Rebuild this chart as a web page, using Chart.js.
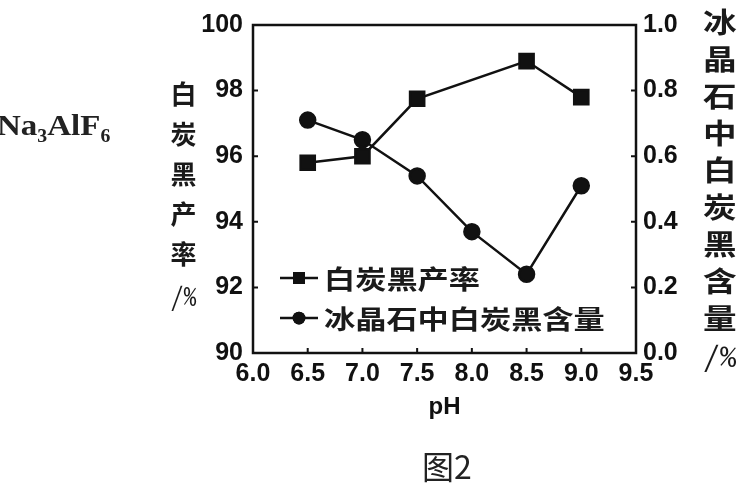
<!DOCTYPE html>
<html>
<head>
<meta charset="utf-8">
<script src="https://cdn.jsdelivr.net/npm/chart.js@4"></script>
<style>
  html, body { margin: 0; padding: 0; background: #fff; }
  #wrap { position: relative; width: 750px; height: 500px; }
  .vtitle {
    position: absolute;
    writing-mode: vertical-rl;
    text-orientation: upright;
    font-family: "Noto Sans CJK SC", sans-serif;
    font-weight: bold;
    color: #1a1a1a;
    line-height: 1;
    white-space: nowrap;
  }
  .vtitle .pc { text-combine-upright: all; font-weight: normal; }
  #leftTitle { left: 170px; top: 81px; font-size: 26px; letter-spacing: 14px; }
  #rightTitle { left: 703px; top: 8px; font-size: 28px; letter-spacing: 9px; transform: scaleX(1.2); transform-origin: left top; }
  #frag { position: absolute; left: -3px; top: 108px; font-family: "Liberation Serif", serif; font-weight: bold; font-size: 30px; color: #222; transform: scaleX(1.1); transform-origin: left top; }
  #frag sub { font-size: 18px; }
  #fig { position: absolute; left: 422px; top: 442px; font-family: "Noto Sans CJK SC", sans-serif; font-size: 32px; color: #222; }
</style>
</head>
<body>
<div id="wrap">
  <canvas id="chart" width="750" height="500"></canvas>
  <div id="leftTitle" class="vtitle">白炭黑产率<span class="pc">/%</span></div>
  <div id="rightTitle" class="vtitle">冰晶石中白炭黑含量<span class="pc">/%</span></div>
  <div id="frag">Na<sub>3</sub>AlF<sub>6</sub></div>
  <div id="fig">图2</div>
</div>
<script>
// data
const phValues = [6.5, 7.0, 7.5, 8.0, 8.5, 9.0];
const yieldPct = [95.8, 96.0, 97.75, null, 98.9, 97.8];   // no point at pH 8.0
const contentPct = [0.71, 0.65, 0.54, 0.37, 0.24, 0.51];
const seriesNames = ['白炭黑产率', '冰晶石中白炭黑含量'];
const xTicks = [6.0, 6.5, 7.0, 7.5, 8.0, 8.5, 9.0, 9.5];
const yTicks = [90, 92, 94, 96, 98, 100];
const y1Ticks = [0.0, 0.2, 0.4, 0.6, 0.8, 1.0];

const numFont = { family: '"Liberation Sans", sans-serif', size: 25, weight: 'bold' };

// frame + inner tick marks
const framePlugin = {
    id: 'frame',
    beforeDatasetsDraw(chart) {
        const { ctx, chartArea: a, scales } = chart;
        ctx.save();
        ctx.strokeStyle = '#111';
        ctx.lineWidth = 2.5;
        ctx.strokeRect(a.left, a.top, a.right - a.left, a.bottom - a.top);
        ctx.lineWidth = 2;
        ctx.beginPath();
        xTicks.forEach(v => {
            const px = scales.x.getPixelForValue(v);
            ctx.moveTo(px, a.bottom);
            ctx.lineTo(px, a.bottom - 5);
        });
        yTicks.forEach(v => {
            const py = scales.y.getPixelForValue(v);
            ctx.moveTo(a.left, py);
            ctx.lineTo(a.left + 5, py);
        });
        y1Ticks.forEach(v => {
            const py = scales.y1.getPixelForValue(v);
            ctx.moveTo(a.right, py);
            ctx.lineTo(a.right - 5, py);
        });
        ctx.stroke();
        ctx.restore();
    }
};

// legend drawn inside the plot, bottom left
const innerLegend = {
    id: 'innerLegend',
    afterDraw(chart) {
        const { ctx } = chart;
        const rows = [278, 318];
        ctx.save();
        chart.data.datasets.forEach((ds, i) => {
            const y = rows[i];
            ctx.strokeStyle = '#111';
            ctx.lineWidth = 2.5;
            ctx.beginPath();
            ctx.moveTo(280, y);
            ctx.lineTo(318, y);
            ctx.stroke();
            ctx.fillStyle = '#111';
            Chart.helpers.drawPoint(ctx, { pointStyle: ds.pointStyle, radius: ds.pointRadius * 0.85, rotation: 0 }, 299, y);
            ctx.fill();
            ctx.save();
            ctx.translate(324, y);
            ctx.scale(1.2, 1);
            ctx.font = 'bold 26px "Noto Sans CJK SC", sans-serif';
            ctx.fillStyle = '#1a1a1a';
            ctx.textBaseline = 'middle';
            ctx.fillText(ds.label, 0, 1);
            ctx.restore();
        });
        ctx.restore();
    }
};

new Chart(document.getElementById('chart'), {
    type: 'line',
    data: {
        datasets: [
            {
                label: seriesNames[0],
                data: phValues.map((p, i) => ({ x: p, y: yieldPct[i] })),
                yAxisID: 'y',
                borderColor: '#111',
                backgroundColor: '#111',
                borderWidth: 2.5,
                pointStyle: 'rect',
                pointRadius: 10,
                spanGaps: true
            },
            {
                label: seriesNames[1],
                data: phValues.map((p, i) => ({ x: p, y: contentPct[i] })),
                yAxisID: 'y1',
                borderColor: '#111',
                backgroundColor: '#111',
                borderWidth: 2.5,
                pointStyle: 'circle',
                pointRadius: 7.5
            }
        ]
    },
    options: {
        responsive: false,
        animation: false,
        layout: { padding: { top: 22, bottom: 81, left: 0, right: 0 } },
        plugins: {
            legend: { display: false },
            tooltip: { enabled: false }
        },
        scales: {
            x: {
                type: 'linear',
                min: 6,
                max: 9.5,
                grid: { display: false, drawTicks: false },
                border: { display: false },
                ticks: {
                    stepSize: 0.5,
                    maxRotation: 0,
                    autoSkip: false,
                    padding: 6,
                    color: '#111',
                    font: numFont,
                    callback: v => Number(v).toFixed(1)
                },
                title: {
                    display: true,
                    text: 'pH',
                    color: '#111',
                    padding: 0,
                    font: { family: '"Liberation Sans", sans-serif', size: 24, weight: 'bold', lineHeight: 1 }
                },
                afterFit: s => { s.height = 66; }
            },
            y: {
                position: 'left',
                min: 90,
                max: 100,
                grid: { display: false, drawTicks: false },
                border: { display: false },
                ticks: { stepSize: 2, padding: 10, color: '#111', font: numFont },
                afterFit: s => { s.width = 253; }
            },
            y1: {
                position: 'right',
                min: 0,
                max: 1,
                grid: { display: false, drawTicks: false },
                border: { display: false },
                ticks: {
                    stepSize: 0.2,
                    padding: 7,
                    color: '#111',
                    font: numFont,
                    callback: v => Number(v).toFixed(1)
                },
                afterFit: s => { s.width = 114; }
            }
        }
    },
    plugins: [framePlugin, innerLegend]
});
</script>
</body>
</html>
